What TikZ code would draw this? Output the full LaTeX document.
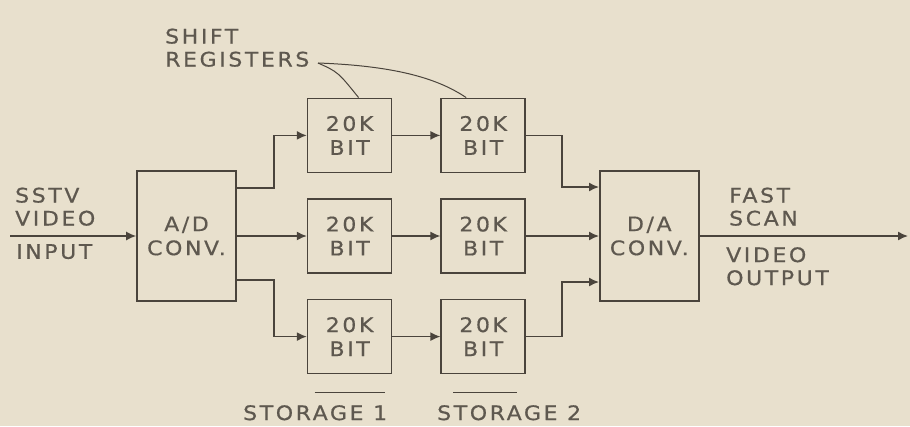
\documentclass[tikz,border=0pt]{standalone}
\usepackage{fontspec}
\newfontfamily\lettering[FakeStretch=1.1,LetterSpace=13,FakeBold=0.6]{DejaVu Sans}
\usepackage{tikz}
\usetikzlibrary{arrows.meta,positioning}
\definecolor{paper}{HTML}{E8E0CD}
\definecolor{ink}{HTML}{4A443C}
\definecolor{pencil}{HTML}{5E584F}
\tikzset{
  base/.style={
    draw=ink,
    line width=1.6pt,
    inner sep=0pt,
    align=center,
    text=pencil,
    font=\lettering\fontsize{20}{24}\selectfont,
  },
  converter/.style={
    base,
    minimum width=99pt,
    minimum height=130pt,
  },
  register/.style={
    base,
    minimum width=84pt,
    minimum height=74pt,
  },
  caption/.style={
    inner sep=0pt,
    align=left,
    text=pencil,
    font=\lettering\fontsize{20}{23}\selectfont,
  },
  edge/.style={
    draw=ink,
    line width=1.5pt,
    >={Latex[length=10pt,width=9pt]},
  },
  post/.style={
    edge,->,
  },
  leader/.style={
    draw=ink,
    line width=1pt,
  },
}

\begin{document}
\begin{tikzpicture}
  \fill[paper] (0,0) rectangle (910pt,-426pt);
  \useasboundingbox (0,0) rectangle (910pt,-426pt);

  \node [converter] (ad) at (186.5pt,-236pt) {A/D\\CONV.};
  \node [register, right=70pt of ad] (reg12) {20K\\BIT};
  \node [register, above=25pt of reg12] (reg11) {20K\\BIT};
  \node [register, below=25pt of reg12] (reg13) {20K\\BIT};
  \node [register, right=48pt of reg12] (reg22) {20K\\BIT};
  \node [register, above=25pt of reg22] (reg21) {20K\\BIT};
  \node [register, below=25pt of reg22] (reg23) {20K\\BIT};
  \node [converter, right=73pt of reg22] (da) {D/A\\CONV.};

  \coordinate (in) at (10pt,-236pt);
  \coordinate (out) at (908pt,-236pt);

  % Captions
  \node [caption, anchor=south west] (sstv) at (15pt,-226pt) {SSTV\\VIDEO};
  \node [caption, anchor=north west] (input) at (16pt,-244pt) {INPUT};
  \node [caption, anchor=south west] (fast) at (729pt,-226pt) {FAST\\SCAN};
  \node [caption, anchor=north west] (vout) at (726pt,-247pt) {VIDEO\\OUTPUT};
  \node [caption, anchor=south west] (shift) at (165pt,-67pt) {SHIFT\\REGISTERS};
  \node [caption, anchor=north west] (store1) at (243pt,-405pt) {STORAGE 1};
  \node [caption, anchor=north west] (store2) at (437pt,-405pt) {STORAGE 2};

  % Left side
  \draw[post] (in) -- (ad);
  \draw[post] ([yshift=48pt]ad.east) -- ++(37pt,0) |- (reg11.west);
  \draw[post] (ad) -- (reg12);
  \draw[post] ([yshift=-44pt]ad.east) -- ++(37pt,0) |- (reg13.west);

  \draw[post] (reg11) -- (reg21);
  \draw[post] (reg12) -- (reg22);
  \draw[post] (reg13) -- (reg23);

  % Right side
  \draw[post] (reg21.east) -- ++(36pt,0) |- ([yshift=49pt]da.west);
  \draw[post] (reg22) -- (da);
  \draw[post] (reg23.east) -- ++(36pt,0) |- ([yshift=-46pt]da.west);
  \draw[post] (da) -- (out);

  % Leaders and storage bars
  \coordinate (tail) at (318pt,-63pt);
  \draw[leader] (tail) .. controls (338pt,-72pt) .. ([xshift=9pt]reg11.north);
  \draw[leader] (tail) .. controls (400pt,-66pt) and (440pt,-80pt) .. ([xshift=-17pt]reg21.north);
  \draw[edge] ([xshift=-35pt,yshift=-18pt]reg13.south) -- ++(70pt,0);
  \draw[edge] ([xshift=-30pt,yshift=-18pt]reg23.south) -- ++(64pt,0);
\end{tikzpicture}
\end{document}
